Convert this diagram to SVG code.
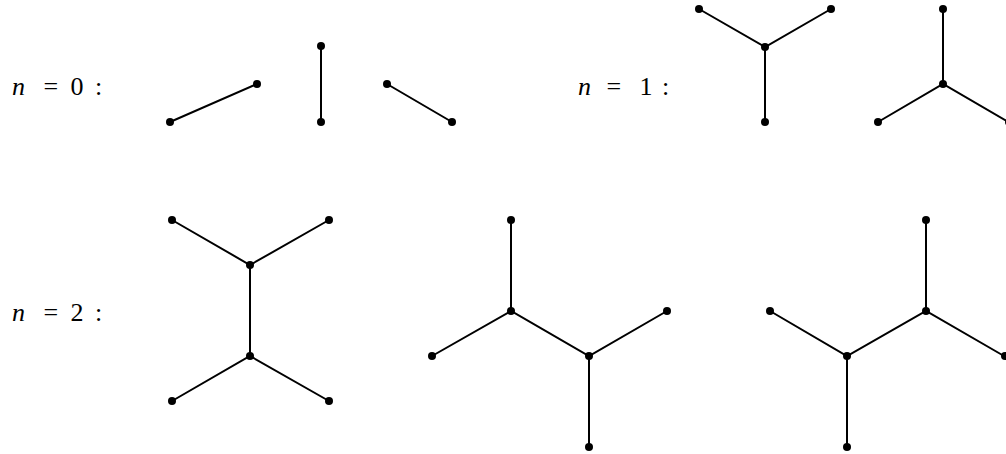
<svg xmlns="http://www.w3.org/2000/svg" width="1006" height="454" viewBox="0 0 1006 454">
<style>
.e{stroke:#000;stroke-width:2;fill:none;stroke-linecap:round}
.v{fill:#000}
</style>
<rect width="1006" height="454" fill="#fff"/>
<g id="labels">
<text x="12" y="95" font-family="Liberation Serif" font-size="26" font-style="italic">n</text>
<text x="43.5" y="95" font-family="Liberation Serif" font-size="26">=</text>
<text x="70.5" y="95" font-family="Liberation Serif" font-size="26">0</text>
<text x="95" y="95" font-family="Liberation Serif" font-size="26">:</text>
<text x="578" y="95" font-family="Liberation Serif" font-size="26" font-style="italic">n</text>
<text x="606.5" y="95" font-family="Liberation Serif" font-size="26">=</text>
<text x="639.5" y="95" font-family="Liberation Serif" font-size="26">1</text>
<text x="662" y="95" font-family="Liberation Serif" font-size="26">:</text>
<text x="12" y="321" font-family="Liberation Serif" font-size="26" font-style="italic">n</text>
<text x="43.5" y="321" font-family="Liberation Serif" font-size="26">=</text>
<text x="70.5" y="321" font-family="Liberation Serif" font-size="26">2</text>
<text x="95" y="321" font-family="Liberation Serif" font-size="26">:</text>
</g>
<g id="connectors">
<path class="e" d="M170 122L257 84M321 46V122M387 84L452 122"/>
<path class="e" d="M699 9L765 47L831 9M765 47V122"/>
<path class="e" d="M943 9V84M878 122L943 84L1010 123"/>
<path class="e" d="M172 220L250 265L329 220M250 265V356M172 401L250 356L329 401"/>
<path class="e" d="M511 220V311M432 356L511 311L589 356L667 311M589 356V447"/>
<path class="e" d="M770 311L847 356L926 311L1004 356M847 356V447M926 311V220"/>
</g>
<g id="nodes" class="v">
<g id="n0a"><circle cx="170" cy="122" r="4"/><circle cx="257" cy="84" r="4"/></g>
<g id="n0b"><circle cx="321" cy="46" r="4"/><circle cx="321" cy="122" r="4"/></g>
<g id="n0c"><circle cx="387" cy="84" r="4"/><circle cx="452" cy="122" r="4"/></g>
<g id="n1a"><circle cx="699" cy="9" r="4"/><circle cx="831" cy="9" r="4"/><circle cx="765" cy="47" r="4"/><circle cx="765" cy="122" r="4"/></g>
<g id="n1b"><circle cx="943" cy="9" r="4"/><circle cx="943" cy="84" r="4"/><circle cx="878" cy="122" r="4"/><circle cx="1009" cy="122" r="4"/></g>
<g id="n2a"><circle cx="172" cy="220" r="4"/><circle cx="329" cy="220" r="4"/><circle cx="250" cy="265" r="4"/><circle cx="250" cy="356" r="4"/><circle cx="172" cy="401" r="4"/><circle cx="329" cy="401" r="4"/></g>
<g id="n2b"><circle cx="511" cy="220" r="4"/><circle cx="511" cy="311" r="4"/><circle cx="432" cy="356" r="4"/><circle cx="589" cy="356" r="4"/><circle cx="667" cy="311" r="4"/><circle cx="589" cy="447" r="4"/></g>
<g id="n2c"><circle cx="770" cy="311" r="4"/><circle cx="847" cy="356" r="4"/><circle cx="847" cy="447" r="4"/><circle cx="926" cy="311" r="4"/><circle cx="926" cy="220" r="4"/><circle cx="1005" cy="356" r="4"/></g>
</g>
</svg>
